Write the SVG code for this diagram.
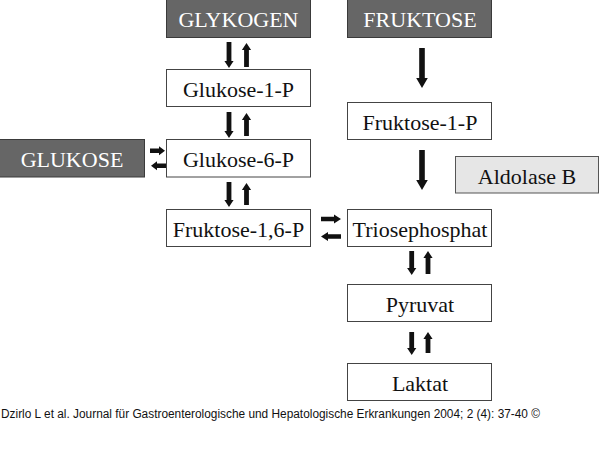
<svg xmlns="http://www.w3.org/2000/svg" width="600" height="463" viewBox="0 0 600 463">
<style>
.w{fill:#ffffff;stroke:#444444;stroke-width:1}
.d{fill:#666666;stroke:#3a3a3a;stroke-width:1}
.l{fill:#e6e6e6;stroke:#555555;stroke-width:1}
.t{font-family:"Liberation Serif","Times New Roman",serif;font-size:22px;text-anchor:middle;fill:#111111}
.tw{font-family:"Liberation Serif","Times New Roman",serif;font-size:22px;text-anchor:middle;fill:#ffffff}
.a{fill:#111111;stroke:none}
.f{font-family:"Liberation Sans",Arial,sans-serif;font-size:12px;fill:#111111}
</style>
<rect width="600" height="463" fill="#ffffff"/>
<g id="glykogen"><rect class="d" x="166.5" y="-1" width="144" height="38.5"/><text class="tw" x="238.5" y="27">GLYKOGEN</text></g>
<g id="fruktose"><rect class="d" x="347.5" y="-1" width="144" height="38.5"/><text class="tw" x="420" y="27">FRUKTOSE</text></g>
<g id="glukose1p"><rect class="w" x="166.5" y="69.5" width="144" height="37"/><text class="t" x="238.5" y="97">Glukose-1-P</text></g>
<g id="fruktose1p"><rect class="w" x="347.5" y="102.5" width="144" height="37"/><text class="t" x="420" y="130">Fruktose-1-P</text></g>
<g id="glukose"><rect class="d" x="-1" y="139.5" width="145.5" height="37.5"/><text class="tw" x="72" y="167">GLUKOSE</text></g>
<g id="glukose6p"><rect class="w" x="166.5" y="139.5" width="144" height="37.5"/><text class="t" x="238.5" y="167">Glukose-6-P</text></g>
<g id="aldolaseb"><rect class="l" x="455.5" y="156.5" width="143" height="36.5"/><text class="t" x="527" y="184">Aldolase B</text></g>
<g id="fruktose16p"><rect class="w" x="166.5" y="209.5" width="144" height="37"/><text class="t" x="238.5" y="237">Fruktose-1,6-P</text></g>
<g id="triosephosphat"><rect class="w" x="347.5" y="209.5" width="144" height="37"/><text class="t" x="420" y="237">Triosephosphat</text></g>
<g id="pyruvat"><rect class="w" x="347.5" y="284.5" width="144" height="37"/><text class="t" x="420" y="312">Pyruvat</text></g>
<g id="laktat"><rect class="w" x="347.5" y="363.5" width="144" height="37"/><text class="t" x="420" y="391">Laktat</text></g>
<g id="connectors">
<path class="a" d="M226.6 42 H231.4 V61 H233.6 L229 68 L224.4 61 H226.6 Z"/>
<path class="a" d="M244.1 67 H248.9 V50 H251.1 L246.5 43 L241.9 50 H244.1 Z"/>
<path class="a" d="M226.6 112 H231.4 V131 H233.6 L229 138 L224.4 131 H226.6 Z"/>
<path class="a" d="M244.1 136 H248.9 V120 H251.1 L246.5 113 L241.9 120 H244.1 Z"/>
<path class="a" d="M226.6 182 H231.4 V200 H233.6 L229 207 L224.4 200 H226.6 Z"/>
<path class="a" d="M244.1 205 H248.9 V190 H251.1 L246.5 183 L241.9 190 H244.1 Z"/>
<path class="a" d="M409.3 251 H414.1 V268 H416.3 L411.7 275 L407.1 268 H409.3 Z"/>
<path class="a" d="M425.6 274 H430.4 V258 H432.6 L428 251 L423.4 258 H425.6 Z"/>
<path class="a" d="M409.3 332 H414.1 V348 H416.3 L411.7 355 L407.1 348 H409.3 Z"/>
<path class="a" d="M425.6 353 H430.4 V339 H432.6 L428 332 L423.4 339 H425.6 Z"/>
<path class="a" d="M419.2 48 H424.8 V78 H427.8 L422 88 L416.2 78 H419.2 Z"/>
<path class="a" d="M419.2 150 H424.8 V180 H427.8 L422 190 L416.2 180 H419.2 Z"/>
<path class="a" d="M150 148.4 H159 V146.2 L165 150.7 L159 155.2 V153 H150 Z"/>
<path class="a" d="M166 163.4 H157 V161.2 L151 165.7 L157 170.2 V168 H166 Z"/>
<path class="a" d="M321 216.7 H334 V214.5 L341 219 L334 223.5 V221.3 H321 Z"/>
<path class="a" d="M341 234.2 H328 V232 L321 236.5 L328 241 V238.8 H341 Z"/>
</g>
<text class="f" x="1" y="418" textLength="539" lengthAdjust="spacingAndGlyphs">Dzirlo L et al. Journal für Gastroenterologische und Hepatologische Erkrankungen 2004; 2 (4): 37-40 ©</text>
</svg>
